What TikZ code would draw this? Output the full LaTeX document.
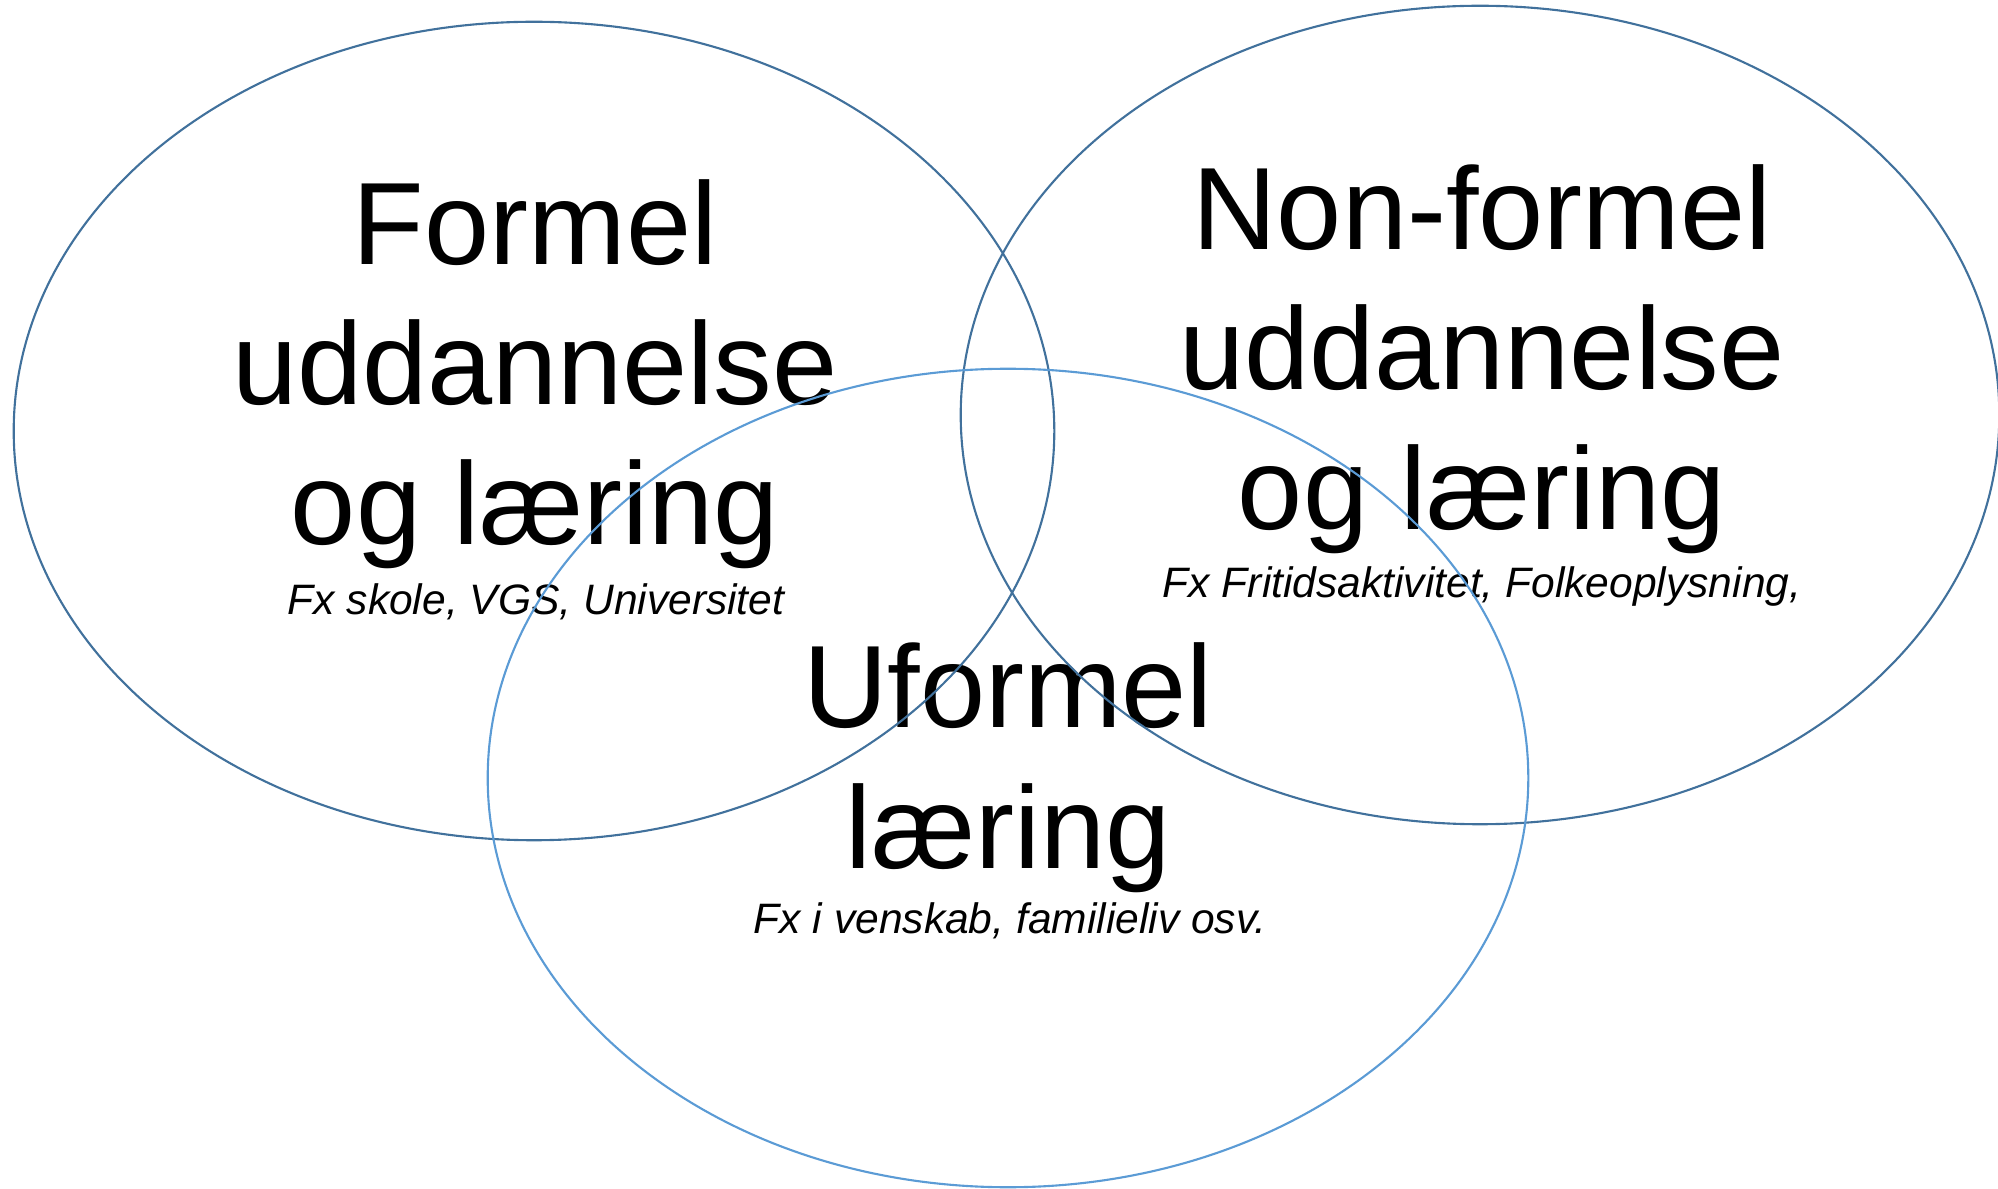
\documentclass[tikz,border=0pt]{standalone}
\usepackage{fontspec}
\setmainfont{Liberation Sans}
\usetikzlibrary{shapes.geometric}
\definecolor{ringdark}{HTML}{41719C}
\definecolor{ringlight}{HTML}{5B9BD5}

\begin{document}
\begin{tikzpicture}[x=0.01cm, y=-0.01cm,
    ring/.style={ellipse, draw, line width=0.6pt, inner sep=0pt, minimum width=10.4cm, minimum height=8.18cm},
    big/.style={anchor=base, inner sep=0pt, font=\fontsize{33.3}{40}\selectfont},
    example/.style={anchor=base, inner sep=0pt, font=\fontsize{12.1}{14}\selectfont\itshape}]

    \useasboundingbox (0,0) rectangle (1998,1189);

    % Formel
    \node[big] (f1) at (535,265) {Formel};
    \node[big] (f2) at (535,405) {uddannelse};
    \node[big] (f3) at (535,545) {og læring};
    \node[example] (fx) at (536,615) {Fx skole, VGS, Universitet};

    % Non-formel
    \node[big] (n1) at (1482,250) {Non-formel};
    \node[big] (n2) at (1482,390) {uddannelse};
    \node[big] (n3) at (1482,530) {og læring};
    \node[example] (nx) at (1482,598) {Fx Fritidsaktivitet, Folkeoplysning,};

    % Uformel
    \node[big] (u1) at (1008,728) {Uformel};
    \node[big] (u2) at (1008,868) {læring};
    \node[example] (ux) at (1010,933) {Fx i venskab, familieliv osv.};

    % rings
    \node[ring, ringdark] (formel) at (534,431) {};
    \node[ring, ringdark, minimum width=10.38cm] (nonformel) at (1480,415) {};
    \node[ring, ringlight] (uformel) at (1008,778) {};

\end{tikzpicture}
\end{document}
